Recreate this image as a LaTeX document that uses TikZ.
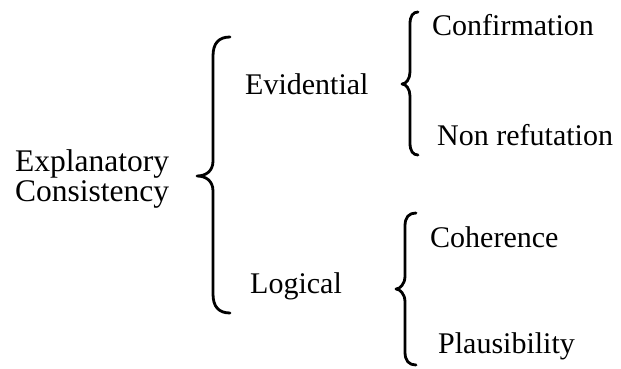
\documentclass[tikz,border=0pt]{standalone}
\usepackage{fontspec}
\setmainfont{Liberation Serif}
\begin{document}
\begin{tikzpicture}[x=1pt,y=-1pt,
  label/.style={anchor=base west,inner sep=0pt,font=\fontsize{30}{32}\selectfont},
  rootlabel/.style={label,font=\fontsize{31.5}{32}\selectfont},
  bracepath/.style={line width=2.8pt,line cap=round,line join=round}]
\useasboundingbox (0,0) rectangle (621,369);

% labels
\node[rootlabel] (expl) at (15,171) {Explanatory};
\node[rootlabel] (cons) at (15,201) {Consistency};
\node[label] (evid) at (245,94) {Evidential};
\node[label] (logi) at (250,293) {Logical};
\node[label] (conf) at (432,36) {Confirmation};
\node[label] (nonr) at (437,145) {Non refutation};
\node[label] (cohe) at (430,247) {Coherence};
\node[label] (plau) at (438,353) {Plausibility};

% brace end points
\coordinate (bigtop) at (230,37);
\coordinate (bigtip) at (197,176);
\coordinate (bigbot) at (230,313);
\coordinate (uptop) at (418,12);
\coordinate (uptip) at (402,84);
\coordinate (upbot) at (418,155);
\coordinate (lotop) at (416,213);
\coordinate (lotip) at (396,289);
\coordinate (lobot) at (416,365);

% braces
\draw[bracepath] (bigtop) .. controls (219,37) and (213,43) .. (213,56)
  -- (213,161) .. controls (213,171) and (206,176) .. (bigtip)
  .. controls (206,176) and (213,181) .. (213,191)
  -- (213,294) .. controls (213,307) and (219,313) .. (bigbot);
\draw[bracepath] (uptop) .. controls (413,12) and (410,16) .. (410,24)
  -- (410,72) .. controls (410,79) and (406,84) .. (uptip)
  .. controls (406,84) and (410,89) .. (410,96)
  -- (410,143) .. controls (410,151) and (413,155) .. (upbot);
\draw[bracepath] (lotop) .. controls (409,213) and (405,217) .. (405,226)
  -- (405,276) .. controls (405,284) and (400,289) .. (lotip)
  .. controls (400,289) and (405,294) .. (405,302)
  -- (405,352) .. controls (405,361) and (409,365) .. (lobot);
\end{tikzpicture}
\end{document}
